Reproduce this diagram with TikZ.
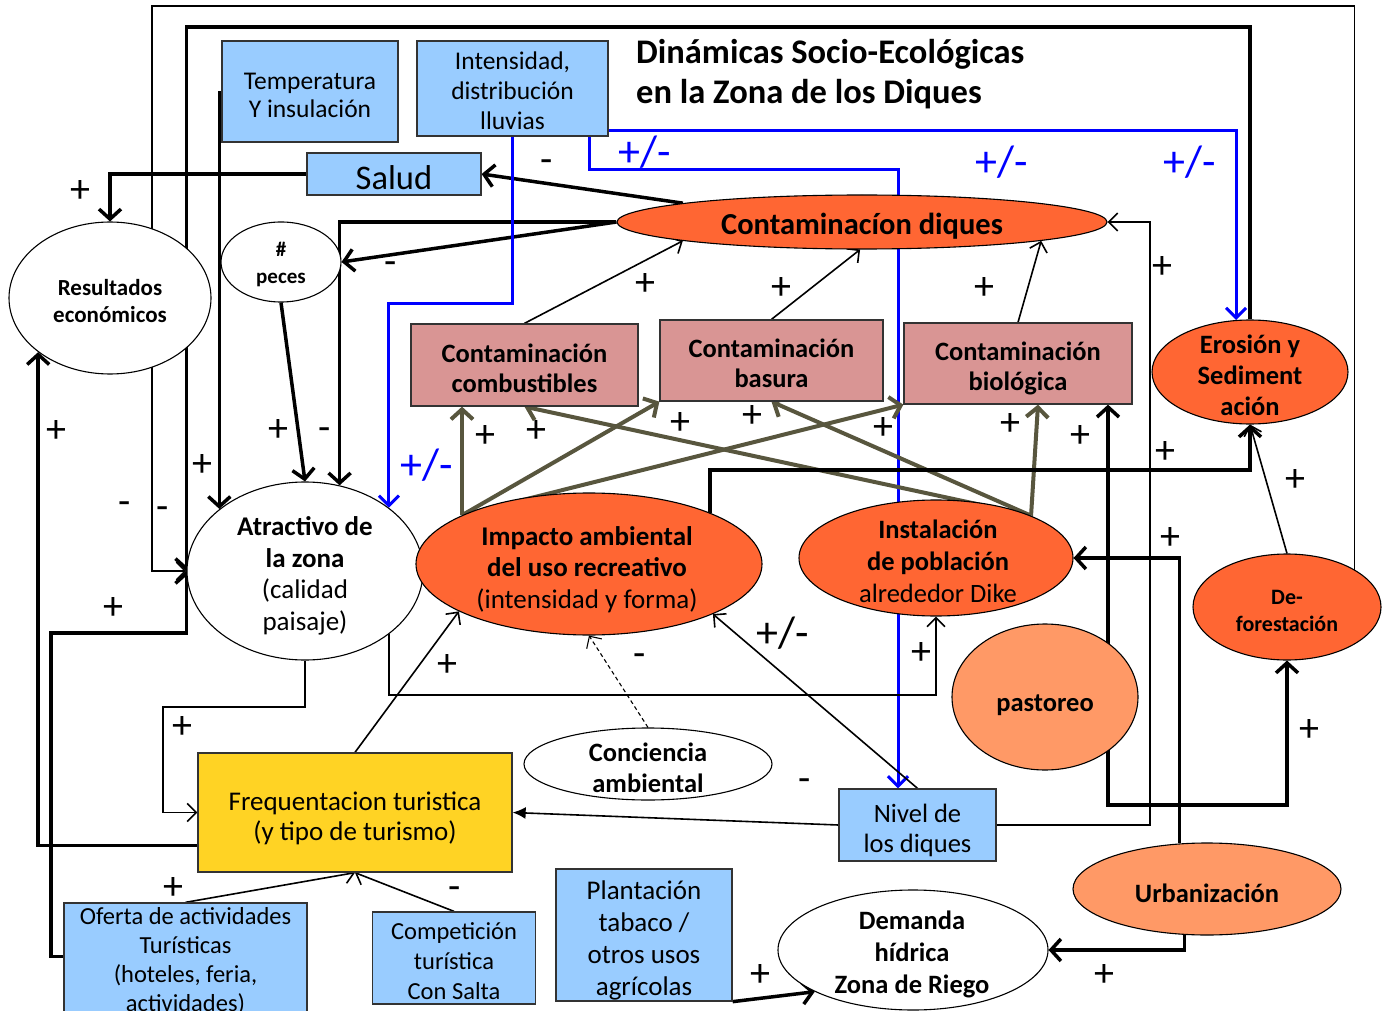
\documentclass[tikz,border=0pt]{standalone}
\usepackage{fontspec}
\setmainfont{Carlito}
\usetikzlibrary{arrows.meta,shapes.geometric,calc}
\pgfdeclarelayer{back}
\pgfdeclarelayer{bg}
\pgfsetlayers{back,bg,main}
\definecolor{boxblue}{HTML}{99CCFF}
\definecolor{orng}{HTML}{FF6633}
\definecolor{lorng}{HTML}{FF9966}
\definecolor{pinkc}{HTML}{D99594}
\definecolor{goldc}{HTML}{FFD324}
\definecolor{olivec}{RGB}{88,86,62}
\definecolor{blueln}{HTML}{0000FF}
\newcommand{\fsz}[2]{\fontsize{#1}{#2}\selectfont}
\tikzset{
 box/.style={draw=black!80, line width=1.3pt, inner sep=0pt},
 ell/.style={ellipse, draw=black, line width=1.1pt, inner sep=0pt},
 txt/.style={align=center, inner sep=0pt},
 thk/.style={line width=3.5pt, -{Straight Barb[length=10pt,width=22pt]}},
 thn/.style={line width=1.6pt, -{Straight Barb[length=9pt,width=18pt]}},
 tri/.style={line width=1.6pt, -{Latex[length=13pt,width=12pt]}},
 blu/.style={line width=3pt, draw=blueln, -{Straight Barb[length=10pt,width=20pt]}},
 olv/.style={line width=4pt, draw=olivec, -{Straight Barb[length=10pt,width=22pt]}},
 lbl/.style={font=\fsz{40}{40}, inner sep=0pt},
 blbl/.style={font=\fsz{44}{44}, inner sep=0pt, text=blueln},
}
\begin{document}
\begin{tikzpicture}[x=1pt,y=-1pt]
\useasboundingbox (0,0) rectangle (1390,1011);
\begin{pgfonlayer}{back}
\fill[white] (0,0) rectangle (1390,1011);
\end{pgfonlayer}

% ---------- nodes ----------
\node[box, fill=boxblue, minimum width=176pt, minimum height=101pt] (temp) at (310,91.5) {};
\node[txt, font=\fsz{25.5}{28}] (tempt) at (310,95.5) {Temperatura\\Y insulación};
\node[box, fill=boxblue, minimum width=191pt, minimum height=95pt] (inten) at (512.5,88.5) {};
\node[txt, font=\fsz{25.5}{30}] (intent) at (512.5,90.5) {Intensidad,\\distribución\\lluvias};
\node[box, fill=boxblue, minimum width=174pt, minimum height=42pt] (salud) at (394,174) {};
\node[txt, font=\fsz{34.5}{34.5}] (saludt) at (394,178) {Salud};
\node[anchor=west, align=left, inner sep=0pt, font=\bfseries\fsz{34.5}{40}] (title) at (636,74) {Dinámicas Socio-Ecológicas\\en la Zona de los Diques};

\node[ell, fill=white, minimum width=202pt, minimum height=152pt] (res) at (110,298) {};
\node[txt, font=\bfseries\fsz{23}{27}] (rest) at (110,301) {Resultados\\económicos};
\node[ell, fill=white, minimum width=120pt, minimum height=80pt] (peces) at (281,262) {};
\node[txt, font=\bfseries\fsz{21}{27}] (pecest) at (281,264) {\#\\peces};
\node[ell, fill=orng, minimum width=490pt, minimum height=54pt] (cdiq) at (862,222) {};
\node[txt, font=\bfseries\fsz{30.5}{30}] (cdiqt) at (862,226) {Contaminacíon diques};

\node[box, fill=pinkc, minimum width=227pt, minimum height=82pt] (comb) at (524.5,365) {};
\node[txt, font=\bfseries\fsz{26.5}{30}] (combt) at (524.5,368) {Contaminación\\combustibles};
\node[box, fill=pinkc, minimum width=223pt, minimum height=81pt] (bas) at (771.5,360.5) {};
\node[txt, font=\bfseries\fsz{26.5}{30}] (bast) at (771.5,363.5) {Contaminación\\basura};
\node[box, fill=pinkc, minimum width=228pt, minimum height=81pt] (bio) at (1018,363.5) {};
\node[txt, font=\bfseries\fsz{26.5}{30}] (biot) at (1018,368.5) {Contaminación\\biológica};

\node[ell, fill=orng, minimum width=196pt, minimum height=104pt] (eros) at (1250,372) {};
\node[txt, font=\bfseries\fsz{26.5}{31}] (erost) at (1250,375) {Erosión y\\Sediment\\ación};

\node[ell, fill=white, minimum width=236pt, minimum height=178pt] (atr) at (305,571) {};
\node[txt, font=\fsz{27}{31.5}] (atrt) at (305,576) {\textbf{Atractivo de}\\\textbf{la zona}\\(calidad\\paisaje)};
\node[ell, fill=orng, minimum width=346pt, minimum height=142pt] (imp) at (589,564) {};
\node[txt, font=\fsz{27}{31.5}] (impt) at (587,569.5) {\textbf{Impacto ambiental}\\\textbf{del uso recreativo}\\(intensidad y forma)};
\node[ell, fill=orng, minimum width=274pt, minimum height=116pt] (inst) at (936,558) {};
\node[txt, font=\fsz{26.5}{32}] (instt) at (938,561) {\textbf{Instalación}\\\textbf{de población}\\alrededor Dike};
\node[ell, fill=orng, minimum width=188pt, minimum height=106pt] (defo) at (1287,607) {};
\node[txt, font=\bfseries\fsz{22}{27}] (defot) at (1287,611) {De-\\forestación};
\node[ell, fill=lorng, minimum width=186pt, minimum height=146pt] (past) at (1045,697) {};
\node[txt, font=\bfseries\fsz{26.5}{30}] (pastt) at (1045,705) {pastoreo};
\node[ell, fill=white, minimum width=248pt, minimum height=72pt] (conc) at (648,764) {};
\node[txt, font=\bfseries\fsz{26.5}{31}] (conct) at (648,768) {Conciencia\\ambiental};

\node[box, fill=boxblue, minimum width=157pt, minimum height=72pt] (niv) at (917.5,825) {};
\node[txt, font=\fsz{26.5}{30}] (nivt) at (917.5,830) {Nivel de\\los diques};
\node[box, fill=goldc, minimum width=314pt, minimum height=119pt] (freq) at (355,812.5) {};
\node[txt, font=\fsz{27}{30}] (freqt) at (355,818.5) {Frequentacion turistica\\(y tipo de turismo)};
\node[box, fill=boxblue, minimum width=243pt, minimum height=114pt] (ofer) at (185.5,960) {};
\node[txt, font=\fsz{24.5}{29}] (ofert) at (185.5,961.5) {Oferta de actividades\\Turísticas\\(hoteles, feria,\\actividades)};
\node[box, fill=boxblue, minimum width=163pt, minimum height=92pt] (comp) at (454,958) {};
\node[txt, font=\fsz{24.5}{30}] (compt) at (454,961) {Competición\\turística\\Con Salta};
\node[box, fill=boxblue, minimum width=176pt, minimum height=132pt] (plan) at (644,935) {};
\node[txt, font=\fsz{27}{32}] (plant) at (644,940) {Plantación\\tabaco /\\otros usos\\agrícolas};
\node[ell, fill=white, minimum width=270pt, minimum height=120pt] (dem) at (913,950) {};
\node[txt, font=\bfseries\fsz{26.5}{32}] (demt) at (912,954) {Demanda\\hídrica\\Zona de Riego};
\node[ell, fill=lorng, minimum width=268pt, minimum height=92pt] (urb) at (1207,889) {};
\node[txt, font=\bfseries\fsz{26.5}{30}] (urbt) at (1207,893) {Urbanización};

% ---------- connectors ----------
\begin{pgfonlayer}{bg}
\coordinate (t1) at ($(temp.west)+(-2,0)$);
\draw[thk] (t1) -- (t1 |- atr.144);
\draw[thk] (salud.west) -| (res.north);
\draw[thk] (cdiq.174) -- (salud.east);
\draw[thk] (cdiq.west) -- (peces.east);
\draw[thk] (cdiq.west) -| (atr.68);
\draw[thk] (peces.south) -- (atr.north);

\coordinate (b1) at (450,303);
\draw[blu] (inten.south) |- (b1) -| (atr.37);
\coordinate (b3) at (700,170);
\draw[blu] ($(inten.south east)+(-19,-6)$) |- (b3) -| ($(niv.north)+(-19.5,0)$);
\draw[blu] ($(inten.south east)+(-19,-6)$) -| (eros.105);

\coordinate (b4) at (1150,500);
\draw[thn] (niv.east) -| (b4) |- (cdiq.east);
\draw[thn] (comb.north) -- (cdiq.186);
\draw[thn] (bas.north) -- (cdiq.266);
\draw[thn] (bio.north) -- (cdiq.354);

\draw[olv] (imp.159) -- (imp.159 |- comb.south);
\draw[olv] (imp.159) -- (bas.south west);
\draw[olv] (imp.159) -- (bio.south west);
\draw[olv] (inst.24) -- (comb.south);
\draw[olv] (inst.24) -- (bas.south);
\draw[olv] (inst.24) -- ($(bio.south)+(20,0)$);

\coordinate (b5) at (900,470);
\draw[thk] (imp.23) |- (b5) -| (eros.south);
\coordinate (pc) at (1108,700);
\draw[thk] (pc) -- (pc |- bio.south);
\coordinate (b6) at (1200,805);
\draw[thk] (pc) |- (b6) -| (defo.south);
\draw[thk] (urb.121) |- (inst.east);
\draw[thk] (urb.244) |- (dem.east);
\draw[thn] (defo.north) -- (eros.south);

\coordinate (b7) at (800,6);
\coordinate (b8) at (152,300);
\draw[thn] (defo.29) |- (b7) -| (b8) |- (atr.west);
\coordinate (b9) at (700,27);
\draw[thk] (eros.north) |- (b9) -| (atr.west);
\coordinate (b10) at (51,800);
\coordinate (b11) at (120,633);
\draw[thk] ($(ofer.north west)+(0,54)$) -| (b10) |- (b11) -| (atr.west);
\draw[thk] ($(freq.south west)+(0,-27)$) -| (res.217);
\coordinate (b12) at (163,707);
\draw[thn] (atr.south) |- (b12) |- (freq.west);
\coordinate (b13) at (600,695);
\draw[thn] (atr.323) |- (b13) -| (inst.south);
\draw[thn] (freq.north) -- (imp.200);
\draw[thn] (niv.north) -- (imp.338);
\draw[tri] (niv.west) -- (freq.east);
\draw[thn, line width=1.1pt, dash pattern=on 4pt off 3pt] (conc.north) -- (imp.south);
\draw[thn] (ofer.north) -- (freq.south);
\draw[thn] (comp.north) -- (freq.south);
\draw[thk] (plan.south east) -- (dem.203);
\end{pgfonlayer}

% ---------- labels ----------
\node[lbl] (l1) at (80,192) {+};
\node[lbl] (l2) at (547,166) {-};
\node[lbl] (l3) at (391,268) {-};
\node[blbl] (l4) at (645,152) {+/-};
\node[blbl] (l5) at (1002,162) {+/-};
\node[blbl] (l6) at (1190,162) {+/-};
\node[blbl] (l7) at (427,465) {+/-};
\node[lbl] (l8) at (645,285) {+};
\node[lbl] (l9) at (781,289) {+};
\node[lbl] (l10) at (984,289) {+};
\node[lbl] (l11) at (1162,268) {+};
\node[lbl] (l12) at (56,432) {+};
\node[lbl] (l13) at (202,466) {+};
\node[lbl] (l14) at (278,431) {+};
\node[lbl] (l15) at (325,434) {-};
\node[lbl] (l16) at (125,508) {-};
\node[lbl] (l17) at (163,513) {-};
\node[lbl] (l18) at (113,609) {+};
\node[lbl] (l19) at (485,437) {+};
\node[lbl] (l20) at (536,432) {+};
\node[lbl] (l21) at (680,424) {+};
\node[lbl] (l22) at (752,417) {+};
\node[lbl] (l23) at (883,429) {+};
\node[lbl] (l24) at (1010,425) {+};
\node[lbl] (l25) at (1080,437) {+};
\node[lbl] (l26) at (1165,453) {+};
\node[lbl] (l27) at (1295,481) {+};
\node[lbl] (l28) at (1170,539) {+};
\node[lbl, font=\fsz{44}{44}] (l29) at (783,633) {+/-};
\node[lbl] (l30) at (921,653) {+};
\node[lbl] (l31) at (640,660) {-};
\node[lbl] (l32) at (447,665) {+};
\node[lbl] (l33) at (182,727) {+};
\node[lbl] (l34) at (805,785) {-};
\node[lbl] (l35) at (1309,730) {+};
\node[lbl] (l36) at (173,888) {+};
\node[lbl] (l37) at (455,893) {-};
\node[lbl] (l38) at (760,975) {+};
\node[lbl] (l39) at (1104,975) {+};
\end{tikzpicture}
\end{document}
